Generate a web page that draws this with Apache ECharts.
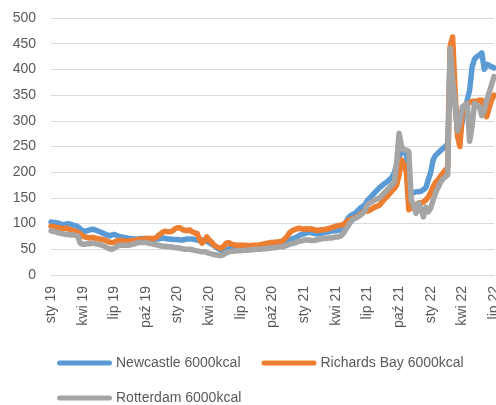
<!DOCTYPE html>
<html>
<head>
<meta charset="utf-8">
<script src="https://cdn.jsdelivr.net/npm/echarts@6/dist/echarts.min.js"></script>
<style>
  html, body { margin: 0; padding: 0; background: #fff; }
  #chart { width: 496px; height: 405px; }
</style>
</head>
<body>
<div id="chart"></div>
<script>
// weekly quotes, USD/t, one row = one quarter (13 weeks), from 2019-01-07
const newcastle = [
  103,102,102,101,99,98,99,100,99,97,96,94,90,
  86,85,86,88,89,88,86,84,82,80,78,76,78,
  79,77,75,74,73,72,71,71,70,70,70,71,71,
  71,70,69,69,70,70,71,72,71,70,70,69,69,
  69,68,68,69,70,70,70,69,68,67,68,67,66,
  63,60,57,53,50,48,47,49,51,52,53,54,55,
  55,54,53,53,53,52,52,52,52,53,55,58,60,
  60,61,62,62,63,64,66,68,70,72,74,77,79,
  80,82,83,82,81,80,80,81,82,83,84,85,86,
  86,87,88,92,100,110,115,118,120,125,130,133,137,
  145,150,155,160,165,170,174,178,181,185,190,198,215,
  232,237,238,236,160,158,160,162,162,163,166,170,185,
  200,224,233,237,242,246,250,255,438,380,330,280,270,
  300,320,340,360,405,420,425,428,432,400,410,408,405,
  403
];
const richardsBay = [
  95,94,93,92,91,90,91,90,88,86,85,83,80,
  76,74,73,72,73,72,71,70,69,68,66,64,63,
  64,66,67,67,66,66,66,67,67,68,69,69,70,
  71,71,71,71,72,76,80,84,85,84,84,86,90,
  92,92,88,87,86,88,84,82,81,70,62,66,74,
  68,64,58,55,53,52,56,62,63,60,59,58,58,
  58,58,58,57,57,58,58,58,59,60,61,62,63,
  63,64,64,65,66,70,75,82,86,88,90,91,90,
  89,90,89,90,88,87,87,88,88,89,90,92,93,
  95,96,97,98,102,106,108,110,112,114,118,122,125,
  124,126,129,132,134,136,142,148,152,158,163,168,175,
  195,224,215,200,127,130,133,137,140,140,142,146,152,
  160,172,180,185,192,198,204,210,445,463,360,270,250,
  320,330,334,335,338,338,338,340,340,320,308,325,340,
  350
];
const rotterdam = [
  86,85,84,82,81,80,79,79,78,78,77,76,62,
  60,60,61,61,62,61,60,59,58,56,53,51,50,
  52,55,58,58,58,58,58,59,60,62,63,63,63,
  63,62,61,60,59,58,57,56,56,55,55,54,53,
  53,52,51,50,50,50,49,48,47,46,45,45,44,
  42,41,40,39,38,38,40,43,45,46,46,47,47,
  47,48,48,48,49,49,50,50,50,51,51,52,52,
  53,53,54,55,55,56,58,60,61,62,64,66,66,
  68,68,68,67,67,68,69,70,71,71,72,72,73,
  74,74,76,80,88,95,102,108,110,113,116,120,125,
  137,140,143,146,148,150,155,160,165,170,175,180,218,
  276,250,243,243,240,146,135,120,140,128,113,132,123,
  130,146,160,170,180,187,191,195,441,380,340,280,300,
  327,330,334,260,290,334,330,327,310,320,340,355,370,
  386
];
const seriesNames = ['Newcastle 6000kcal', 'Richards Bay 6000kcal', 'Rotterdam 6000kcal'];
const monthNames = ['sty','lut','mar','kwi','maj','cze','lip','sie','wrz','paź','lis','gru'];

const start = Date.UTC(2019, 0, 7);
const weeks = newcastle.map((_, i) => {
  const d = new Date(start + i * 7 * 86400000);
  return d.toISOString().slice(0, 10);
});

const chart = echarts.init(document.getElementById('chart'));
const font = 'Liberation Sans, Arial, sans-serif';
const lineSeries = (name, data, color) => ({
  name,
  type: 'line',
  data,
  showSymbol: false,
  symbol: 'none',
  lineStyle: { color, width: 5.5, join: 'round', cap: 'round' },
  itemStyle: { color },
  animation: false,
});

chart.setOption({
  animation: false,
  textStyle: { fontFamily: font },
  grid: { left: 51, right: 2, top: 18, bottom: 130, outerBoundsMode: 'none' },
  xAxis: {
    type: 'category',
    data: weeks,
    boundaryGap: false,
    axisLine: { lineStyle: { color: '#D9D9D9' } },
    axisTick: { show: false },
    axisLabel: {
      rotate: 90,
      margin: 11,
      color: '#595959',
      fontSize: 14,
      fontFamily: font,
      interval: (i) => i % 13 === 0,
      formatter: (v) => {
        const d = new Date(v + 'T00:00:00Z');
        return monthNames[d.getUTCMonth()] + ' ' + String(d.getUTCFullYear()).slice(2);
      },
    },
    splitLine: { show: false },
  },
  yAxis: {
    type: 'value',
    min: 0,
    max: 500,
    interval: 50,
    axisLine: { show: false },
    axisTick: { show: false },
    axisLabel: { color: '#595959', fontSize: 14, fontFamily: font, margin: 15 },
    splitLine: { lineStyle: { color: '#D9D9D9', width: 1 } },
  },
  legend: {
    left: 52,
    top: 351,
    width: 430,
    itemWidth: 55,
    itemHeight: 5,
    itemGap: 21,
    icon: 'path://M2.5,0 L52.5,0 A2.5,2.5 0 0 1 52.5,5 L2.5,5 A2.5,2.5 0 0 1 2.5,0 Z',
    textStyle: { color: '#595959', fontSize: 14, fontFamily: font, padding: [0, 0, 0, -1] },
    data: seriesNames,
  },
  series: [
    lineSeries(seriesNames[0], newcastle, '#5B9BD5'),
    lineSeries(seriesNames[1], richardsBay, '#ED7D31'),
    lineSeries(seriesNames[2], rotterdam, '#A5A5A5'),
  ],
});
</script>
</body>
</html>
